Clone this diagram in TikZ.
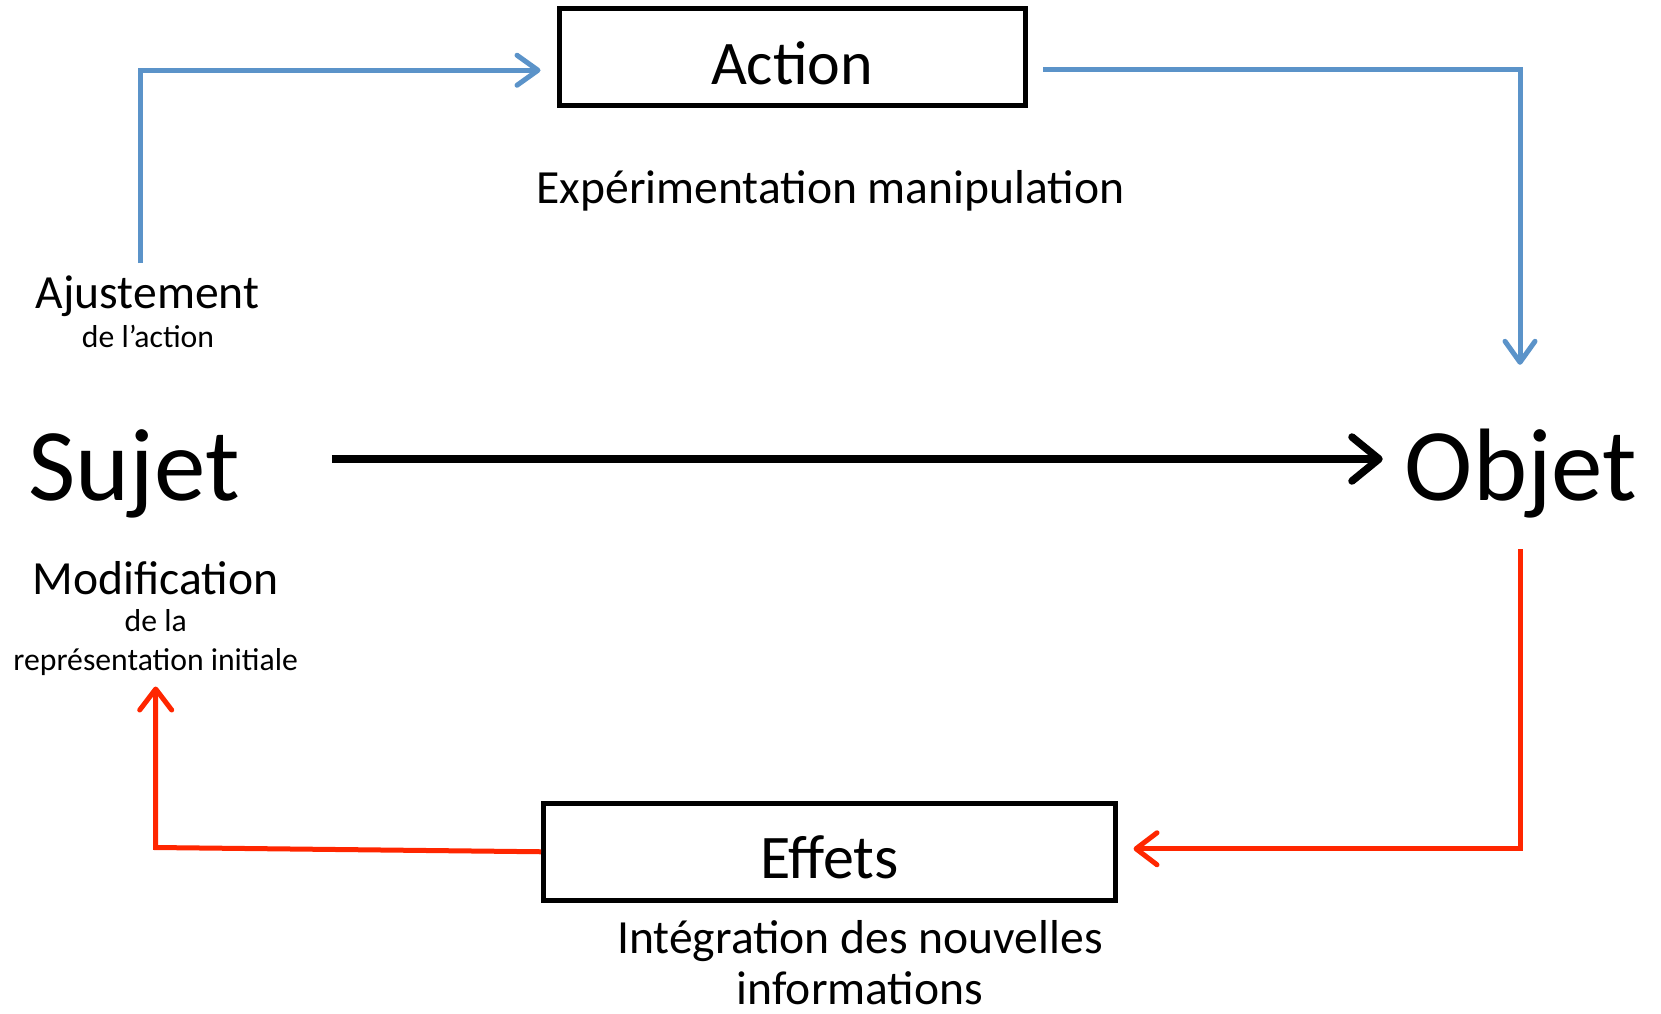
\documentclass[tikz,border=0pt]{standalone}
\usepackage{fontspec}
\setmainfont{Carlito}
\usetikzlibrary{arrows.meta}
\definecolor{cblue}{HTML}{5B93C9}
\definecolor{cred}{HTML}{FF2600}
\tikzset{
  boxnode/.style={draw=black, line width=5pt, minimum width=466pt, minimum height=97pt, inner sep=0pt, text height=54pt, text depth=0pt, font=\fontsize{62}{70}\selectfont},
  bigtxt/.style={inner sep=0pt, anchor=base, text height=82pt, text depth=0pt, font=\fontsize{103}{110}\selectfont},
  midtxt/.style={inner sep=0pt, anchor=base, font=\fontsize{47.6}{55}\selectfont},
  smalltxt/.style={inner sep=0pt, anchor=base, font=\fontsize{31.7}{38}\selectfont},
  bluearrow/.style={draw=cblue, line width=5pt, -{Straight Barb[length=21pt, width=30pt, line cap=round, line join=round]}},
  redarrow/.style={draw=cred, line width=5pt, -{Straight Barb[length=21pt, width=32pt, line cap=round, line join=round]}},
  blackarrow/.style={draw=black, line width=7.5pt, -{Straight Barb[length=27pt, width=44pt, line cap=round, line join=round]}}
}
\begin{document}
\begin{tikzpicture}[x=1pt, y=-1pt]
\useasboundingbox (0,0) rectangle (1661,1013);
% boxes
\node[boxnode] (act) at (792,57.25) {Action};
\node[boxnode, minimum width=572pt] (eff) at (829.5,851.75) {Effets};
% texts
\node[midtxt] (exp) at (830.6,203.5) {Expérimentation manipulation};
\node[midtxt] (aj) at (147.5,308) {Ajustement};
\node[smalltxt] (ajs) at (148,347.5) {de l’action};
\node[bigtxt] (suj) at (134,500) {Sujet};
\node[bigtxt] (obj) at (1521,500) {Objet};
\node[midtxt] (mod) at (155.7,594) {Modification};
\node[smalltxt] (modl) at (155.7,631) {de la};
\node[smalltxt] (rep) at (155.7,670.6) {représentation initiale};
\node[midtxt] (int1) at (860,953) {Intégration des nouvelles};
\node[midtxt] (int2) at (860,1004) {informations};
% coordinates
\coordinate (bl0) at (140,263);
\coordinate (rl1) at (155.7,847.5);
\coordinate (rl2) at (155.7,686.5);
% connectors
\draw[bluearrow] (bl0) |- ([xshift=-16pt, yshift=-13pt]act.west);
\draw[bluearrow] ([xshift=15.5pt, yshift=-12pt]act.east) -| ([xshift=-1pt, yshift=53pt]obj.north);
\draw[blackarrow] ([xshift=92pt]suj.east) -- ([xshift=-22pt]obj.west);
\draw[redarrow] ([xshift=-1pt, yshift=-49pt]obj.south) |- ([xshift=15.5pt, yshift=3pt]eff.east);
\draw[redarrow] (eff.west) -- (rl1) -- (rl2);
\end{tikzpicture}
\end{document}
